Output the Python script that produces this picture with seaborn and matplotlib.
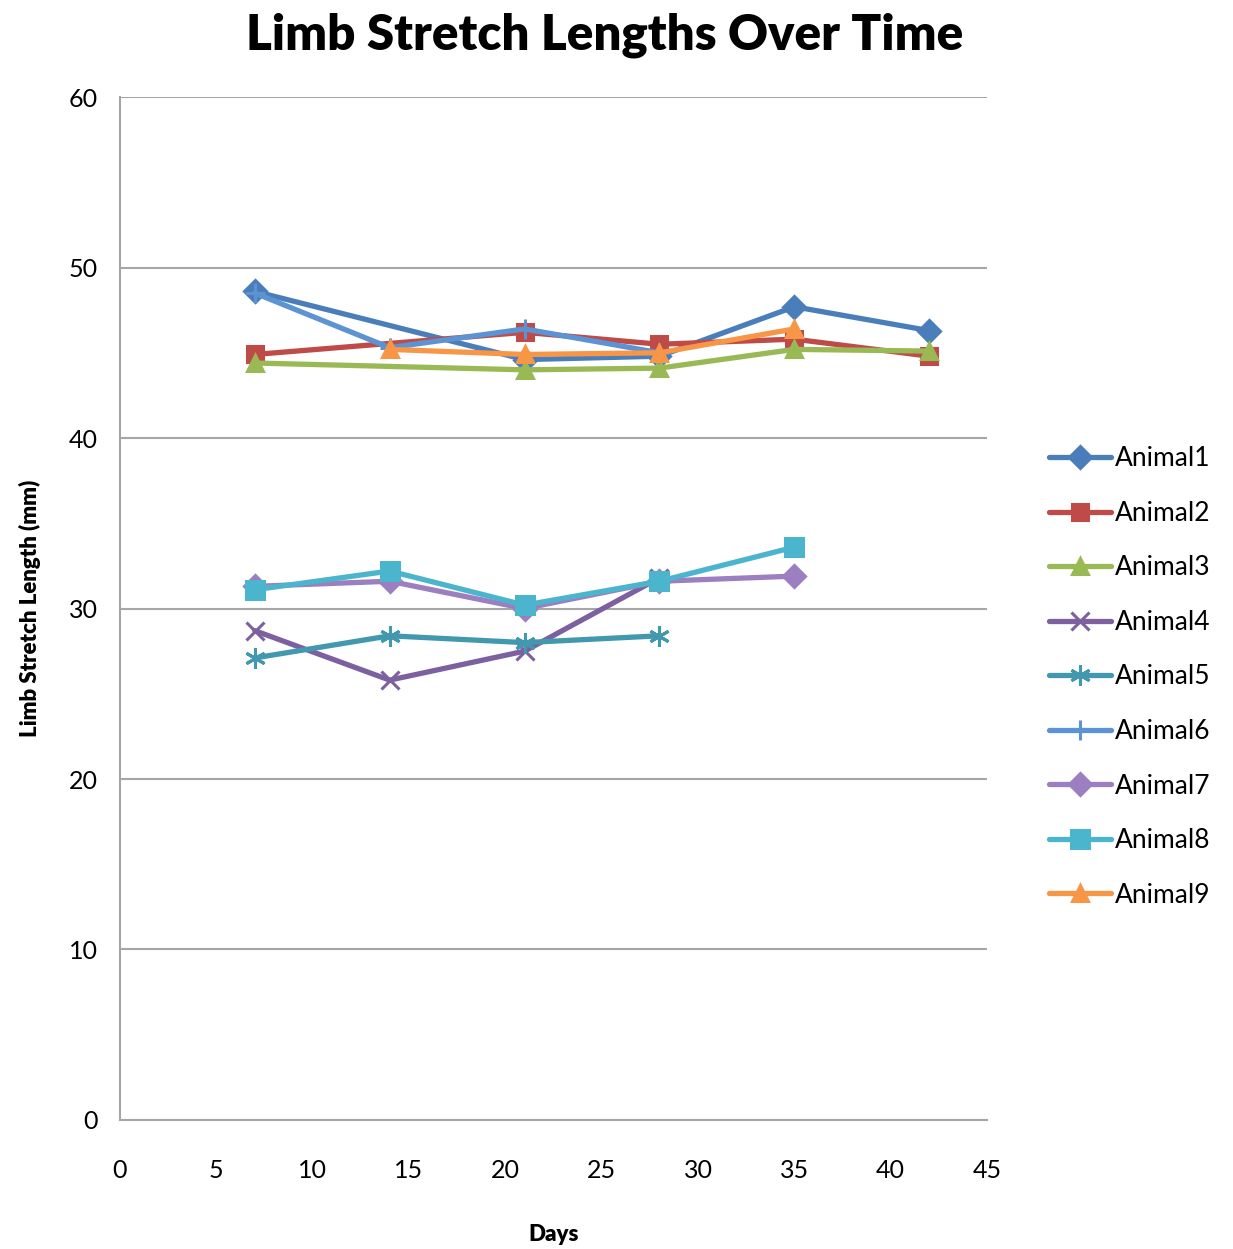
import numpy as np
import pandas as pd
import matplotlib
matplotlib.use("Agg")
import matplotlib.pyplot as plt
import seaborn as sns

# Measurement days and limb stretch lengths (mm) per animal
animals = ["Animal1", "Animal2", "Animal3", "Animal4", "Animal5",
           "Animal6", "Animal7", "Animal8", "Animal9"]
days_a1 = [7, 21, 28, 35, 42]
len_a1 = [48.6, 44.6, 44.8, 47.7, 46.3]
days_a2 = [7, 21, 28, 35, 42]
len_a2 = [44.9, 46.2, 45.5, 45.8, 44.8]
days_a3 = [7, 21, 28, 35, 42]
len_a3 = [44.4, 44.0, 44.1, 45.2, 45.1]
days_a4 = [7, 14, 21, 28]
len_a4 = [28.7, 25.8, 27.5, 31.8]
days_a5 = [7, 14, 21, 28]
len_a5 = [27.1, 28.4, 28.0, 28.4]
days_a6 = [7, 14, 21, 28]
len_a6 = [48.5, 45.3, 46.4, 45.0]
days_a7 = [7, 14, 21, 28, 35]
len_a7 = [31.3, 31.6, 30.0, 31.6, 31.9]
days_a8 = [7, 14, 21, 28, 35]
len_a8 = [31.1, 32.2, 30.2, 31.6, 33.6]
days_a9 = [14, 21, 28, 35]
len_a9 = [45.2, 44.9, 45.0, 46.4]

all_days = [days_a1, days_a2, days_a3, days_a4, days_a5,
            days_a6, days_a7, days_a8, days_a9]
all_lens = [len_a1, len_a2, len_a3, len_a4, len_a5,
            len_a6, len_a7, len_a8, len_a9]

colors = ["#4A7EBB", "#BE4B48", "#98B954", "#7D60A0", "#4198AF",
          "#5B93D3", "#9B7FC0", "#4BB5CE", "#F79646"]
markers = ["D", "s", "^", "x", (6, 2, 0), "+", "D", "s", "^"]
msizes = [11, 12, 12, 13, 15, 15, 11, 13, 12]

sns.set_theme(style="white")
plt.rcParams["font.family"] = ["Lato", "DejaVu Sans"]
plt.rcParams["text.color"] = "black"
plt.rcParams["axes.labelcolor"] = "black"

fig = plt.figure(figsize=(12.33, 12.49), dpi=100)
ax = fig.add_axes([0.0973, 0.1033, 0.7032, 0.8190])

for name, d, v, c, m, ms in zip(animals, all_days, all_lens, colors, markers, msizes):
    df = pd.DataFrame({"Days": d, "Length": v})
    sns.lineplot(data=df, x="Days", y="Length", ax=ax, color=c, linewidth=3.8,
                 marker=m, markersize=ms, markeredgecolor=c, markeredgewidth=2.2,
                 label=name, estimator=None, sort=False)

ax.set_xlim(0, 45)
ax.set_ylim(0, 60)
ax.set_xticks(np.arange(0, 46, 5))
ax.set_yticks(np.arange(0, 61, 10))
ax.yaxis.grid(True, color="#A6A6A6", linewidth=1.5)
ax.xaxis.grid(False)
for side in ["top", "right"]:
    ax.spines[side].set_visible(False)
for side in ["left", "bottom"]:
    ax.spines[side].set_color("#A6A6A6")
    ax.spines[side].set_linewidth(1.5)
ax.tick_params(axis="both", which="both", direction="out", length=6, width=1.5,
               color="#A6A6A6", labelsize=18, labelcolor="black")
ax.tick_params(axis="x", pad=22)
ax.tick_params(axis="y", pad=10)

ax.set_xlabel("Days", fontsize=16, fontweight="heavy", labelpad=30)
ax.set_ylabel("Limb Stretch Length (mm)", fontsize=16, fontweight="heavy", labelpad=20)
fig.suptitle("Limb Stretch Lengths Over Time", fontsize=35.5, fontweight="heavy",
             x=0.49, y=0.99)

ax.legend(loc="center left", bbox_to_anchor=(0.842, 0.458),
          bbox_transform=fig.transFigure, frameon=False, fontsize=19,
          handlelength=2.35, handletextpad=0.15, labelspacing=1.12,
          borderaxespad=0)

fig.savefig("out.png", dpi=100, facecolor="white")
